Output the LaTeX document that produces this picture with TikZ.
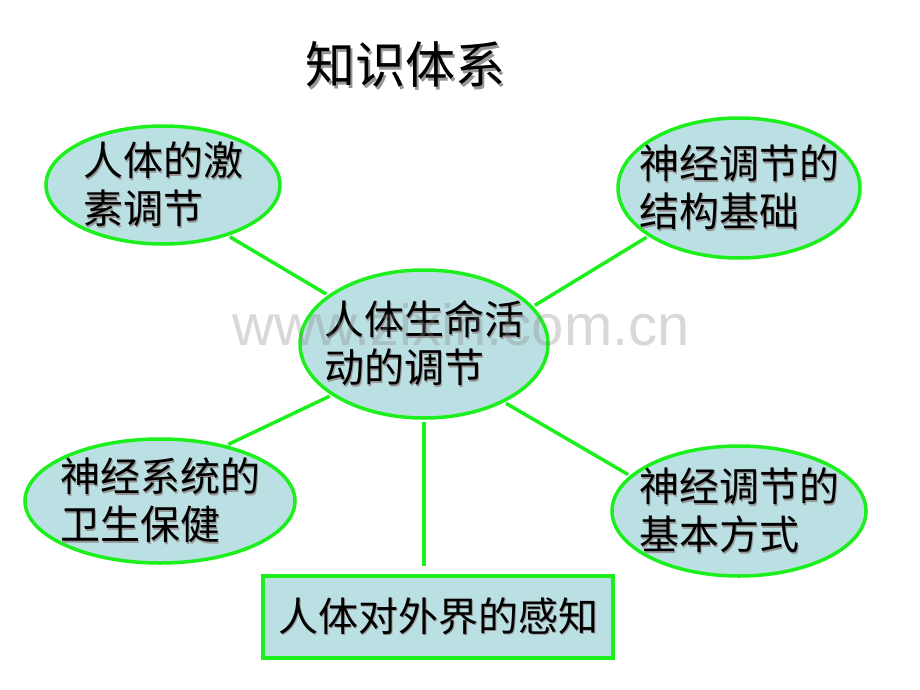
\documentclass[tikz,border=0pt]{standalone}
\usepackage{fontspec}
\setmainfont{Noto Sans CJK SC}
\newfontfamily\wmfont{Liberation Sans}
\usetikzlibrary{shapes.geometric}
\definecolor{brgreen}{RGB}{28,240,28}
\definecolor{bubfill}{RGB}{187,224,227}
\definecolor{shgray}{RGB}{150,150,150}
\newcommand\shd[1]{\leavevmode\rlap{\kern1.6pt\raisebox{-1.6pt}{\textcolor{shgray}{#1}}}#1}
\newcommand\shdt[1]{\leavevmode\rlap{\kern2.4pt\raisebox{-2.4pt}{\textcolor{shgray}{#1}}}#1}
\tikzset{
  bub/.style={ellipse, draw=brgreen, line width=3.5pt, fill=bubfill,
    inner xsep=-45pt, inner ysep=-35pt, align=left,
    font=\fontsize{40}{48}\selectfont},
  boxnode/.style={rectangle, draw=brgreen, line width=4pt, fill=bubfill,
    minimum width=350pt, minimum height=82pt, inner sep=0pt,
    font=\fontsize{40}{48}\selectfont},
  link/.style={draw=brgreen, line width=3.5pt, shorten <=2pt, shorten >=2pt},
}
\begin{document}
\begin{tikzpicture}[x=1pt,y=-1pt]
\useasboundingbox (0,0) rectangle (920,690);
\fill[white] (0,0) rectangle (920,690);
% title
\node[font=\fontsize{50}{60}\selectfont, inner sep=0pt] (title) at (405,66) {\shdt{知识体系}};
% bubbles
\node[bub, minimum width=248pt, minimum height=148pt] (c) at (424,344) {\shd{人体生命活}\\\shd{动的调节}};
\node[bub, minimum width=234pt, minimum height=118pt] (tl) at (163,185) {\shd{人体的激}\\\shd{素调节}};
\node[bub, minimum width=242pt, minimum height=140pt] (tr) at (739,188) {\shd{神经调节的}\\\shd{结构基础}};
\node[bub, minimum width=270pt, minimum height=124pt] (bl) at (160,501) {\shd{神经系统的}\\\shd{卫生保健}};
\node[bub, minimum width=254pt, minimum height=130pt] (br) at (739,511) {\shd{神经调节的}\\\shd{基本方式}};
\node[boxnode] (box) at (438,617) {\shd{人体对外界的感知}};
% connectors
\draw[link] (tl.-38) -- (c.153);
\draw[link] (c.19) -- (tr.-152);
\draw[link] (bl.40) -- (c.-151);
\draw[link] (c.-36) -- (br.162);
\draw[link, shorten >=8pt] (c.south) -- (c.south |- box.north);
% watermark
\node[anchor=base west, inner sep=0pt, font=\wmfont\fontsize{58}{60}\selectfont, text=gray, opacity=0.3] (wm) at (232,345) {www.zixin.com.cn};
\end{tikzpicture}
\end{document}
